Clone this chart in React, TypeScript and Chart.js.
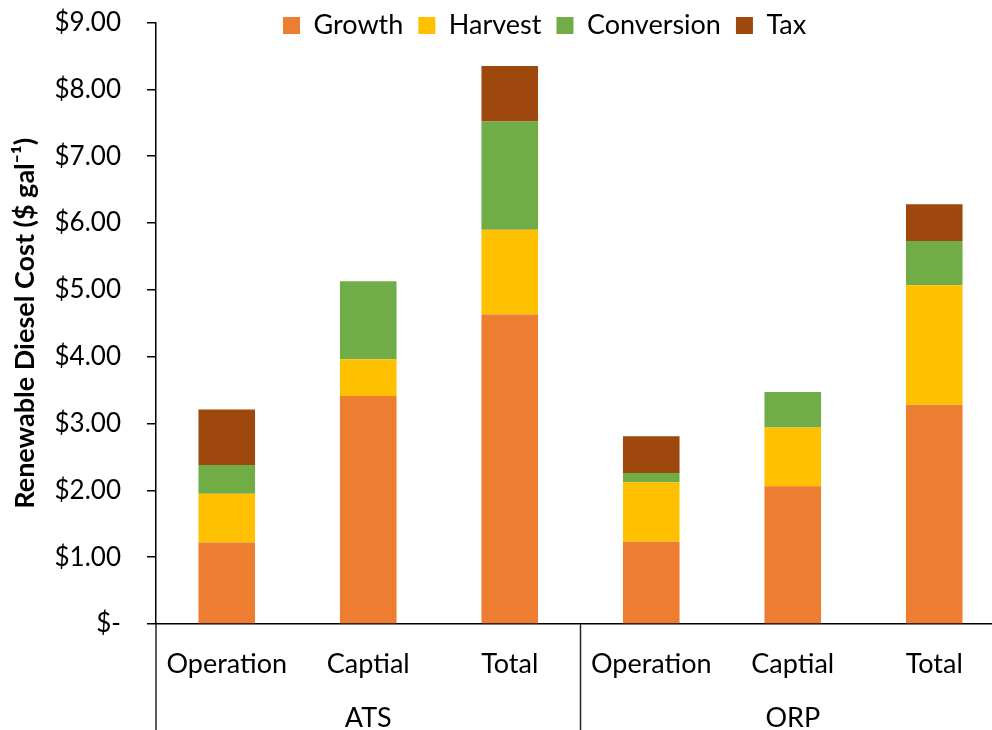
import { useEffect, useRef } from 'react';
import { Chart, registerables } from 'chart.js';

Chart.register(...registerables);

const categories = ['Operation', 'Captial', 'Total', 'Operation', 'Captial', 'Total'];
const groups = ['ATS', 'ORP'];
const growth = [1.22, 3.41, 4.63, 1.23, 2.06, 3.28];
const harvest = [0.73, 0.55, 1.27, 0.89, 0.88, 1.79];
const conversion = [0.43, 1.17, 1.62, 0.14, 0.53, 0.66];
const tax = [0.83, null, 0.83, 0.55, null, 0.55];
const seriesNames = ['Growth', 'Harvest', 'Conversion', 'Tax'];
const seriesColors = ['#ED7D31', '#FFC000', '#70AD47', '#9E480E'];

const FONT = "Lato, 'Open Sans', sans-serif";

export default function App() {
  const ref = useRef<HTMLCanvasElement>(null);

  useEffect(() => {
    if (!ref.current) return;
    const groupPlugin = {
      id: 'groupLabels',
      beforeLayout(chart: any) {
        const lg = chart.legend;
        if (lg && !lg.__patched) {
          const orig = lg.fit.bind(lg);
          lg.fit = function () {
            orig();
            this.height = 22.5;
          };
          lg.__patched = true;
        }
      },
      afterLayout(chart: any) {
        const lg = chart.legend;
        if (lg) {
          lg.left = 268;
          lg.right = chart.width;
          lg.top = -3;
          lg.bottom = 50;
        }
      },
      afterDraw(chart: any) {
        const xs = chart.scales.x;
        const area = chart.chartArea;
        const ctx = chart.ctx;
        ctx.save();
        ctx.strokeStyle = '#262626';
        ctx.lineWidth = 1.5;
        const n = categories.length / groups.length;
        const bounds: number[] = [area.left];
        for (let g = 1; g < groups.length; g++) {
          bounds.push((xs.getPixelForValue(g * n - 1) + xs.getPixelForValue(g * n)) / 2);
        }
        bounds.push(area.right);
        bounds.forEach((b) => {
          ctx.beginPath();
          ctx.moveTo(b, area.bottom);
          ctx.lineTo(b, chart.height);
          ctx.stroke();
        });
        ctx.fillStyle = '#000';
        ctx.font = `27px ${FONT}`;
        ctx.textAlign = 'center';
        ctx.textBaseline = 'middle';
        groups.forEach((g, i) => {
          const a = xs.getPixelForValue(i * n);
          const b = xs.getPixelForValue(i * n + n - 1);
          ctx.fillText(g, (a + b) / 2, area.bottom + 94);
        });
        ctx.restore();
      },
    };

    const values = [growth, harvest, conversion, tax];
    const chart = new Chart(ref.current, {
      type: 'bar',
      data: {
        labels: categories,
        datasets: seriesNames.map((name, i) => ({
          label: name,
          data: values[i] as any,
          backgroundColor: seriesColors[i],
          borderWidth: 0,
          barPercentage: 0.4,
          categoryPercentage: 1.0,
        })),
      },
      options: {
        responsive: false,
        animation: false,
        devicePixelRatio: 1,
        layout: { padding: 0 },
        plugins: {
          legend: {
            position: 'top',
            align: 'start',
            labels: {
              boxWidth: 17,
              boxHeight: 17,
              padding: 15,
              color: '#000',
              font: { size: 27, family: FONT },
            },
          },
          tooltip: { enabled: false },
        },
        scales: {
          x: {
            stacked: true,
            offset: true,
            grid: { display: false },
            border: { display: true, color: '#000', width: 1.5 },
            ticks: {
              color: '#000',
              font: { size: 27, family: FONT },
              padding: 16,
              maxRotation: 0,
              autoSkip: false,
            },
            afterFit: (s: any) => {
              s.height = 106;
            },
          },
          y: {
            stacked: true,
            min: 0,
            max: 9,
            ticks: {
              stepSize: 1,
              color: '#000',
              font: { size: 26, family: FONT },
              padding: 26,
              callback: (v: any) => (Number(v) === 0 ? '$-' : '$' + Number(v).toFixed(2)),
            },
            grid: {
              drawOnChartArea: false,
              drawTicks: true,
              tickLength: 9,
              color: '#000',
              lineWidth: 1.5,
            },
            border: { display: true, color: '#000', width: 1.5 },
            title: {
              display: true,
              text: 'Renewable Diesel Cost ($ gal⁻¹)',
              color: '#000',
              font: { size: 27, weight: 'bold', family: FONT },
              padding: { top: 9, bottom: 0 },
            },
            afterFit: (s: any) => {
              s.width = 156;
              s.paddingTop = 0;
              s.paddingBottom = 0;
            },
          },
        },
      },
      plugins: [groupPlugin],
    });
    return () => chart.destroy();
  }, []);

  return (
    <div
      style={{
        position: 'absolute',
        left: 0,
        top: 0,
        width: 992,
        height: 730,
        overflow: 'hidden',
        background: '#fff',
      }}
    >
      <canvas ref={ref} width={1005} height={730} style={{ display: 'block' }} />
    </div>
  );
}
